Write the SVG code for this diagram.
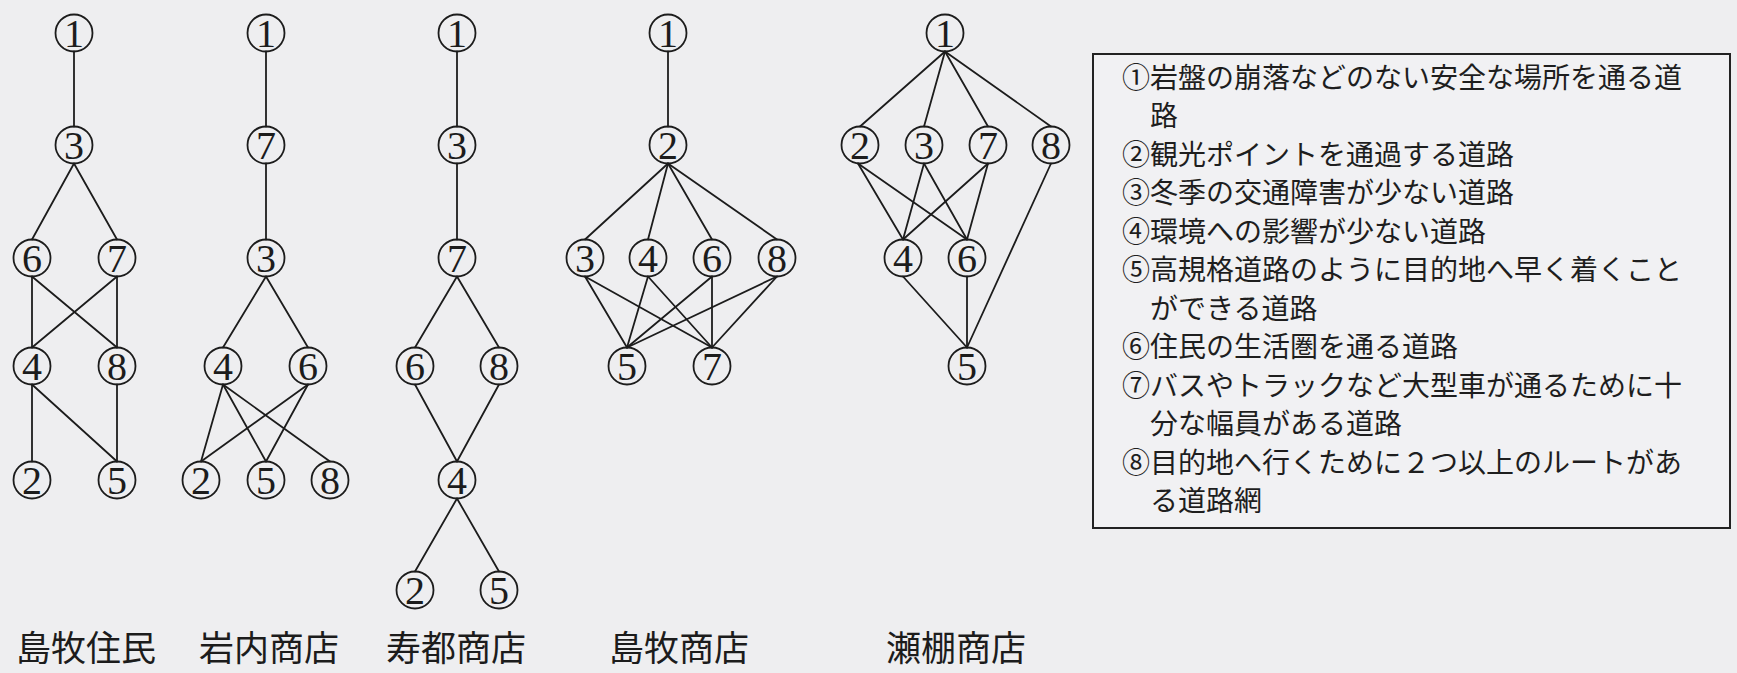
<svg xmlns="http://www.w3.org/2000/svg" width="1737" height="673" viewBox="0 0 1737 673">
<style>
.bg{fill:#eeeef0}
circle.n{fill:none;stroke:#1c1c1c;stroke-width:1.8}
text.d{font-family:"Liberation Serif","DejaVu Serif",serif;font-size:40px;fill:#1c1c1c;text-anchor:middle}
#edges line{stroke:#1c1c1c;stroke-width:1.8;stroke-linecap:round}
text.lbl{font-family:"Noto Sans CJK JP","Noto Sans CJK SC",sans-serif;font-size:35px;fill:#1c1c1c}
text.lg{font-family:"Noto Sans CJK JP","Noto Sans CJK SC",sans-serif;font-size:28px;fill:#1e1e1e}
</style>
<rect class="bg" x="0" y="0" width="1737" height="673"/>

<g id="edges">
<!-- G1 島牧住民 -->
<line x1="74" y1="51.5" x2="74" y2="126.5"/>
<line x1="74" y1="163.5" x2="32" y2="239.5"/>
<line x1="74" y1="163.5" x2="117" y2="239.5"/>
<line x1="32" y1="276.5" x2="32" y2="347.5"/>
<line x1="32" y1="276.5" x2="117" y2="347.5"/>
<line x1="117" y1="276.5" x2="32" y2="347.5"/>
<line x1="117" y1="276.5" x2="117" y2="347.5"/>
<line x1="32" y1="384.5" x2="32" y2="461.5"/>
<line x1="32" y1="384.5" x2="117" y2="461.5"/>
<line x1="117" y1="384.5" x2="117" y2="461.5"/>
<!-- G2 岩内商店 -->
<line x1="266" y1="51.5" x2="266" y2="126.5"/>
<line x1="266" y1="163.5" x2="266" y2="239.5"/>
<line x1="266" y1="276.5" x2="223" y2="347.5"/>
<line x1="266" y1="276.5" x2="308" y2="347.5"/>
<line x1="223" y1="384.5" x2="201" y2="461.5"/>
<line x1="223" y1="384.5" x2="266" y2="461.5"/>
<line x1="223" y1="384.5" x2="330" y2="461.5"/>
<line x1="308" y1="384.5" x2="201" y2="461.5"/>
<line x1="308" y1="384.5" x2="266" y2="461.5"/>
<!-- G3 寿都商店 -->
<line x1="457" y1="51.5" x2="457" y2="126.5"/>
<line x1="457" y1="163.5" x2="457" y2="239.5"/>
<line x1="457" y1="276.5" x2="415" y2="347.5"/>
<line x1="457" y1="276.5" x2="499" y2="347.5"/>
<line x1="415" y1="384.5" x2="457" y2="461.5"/>
<line x1="499" y1="384.5" x2="457" y2="461.5"/>
<line x1="457" y1="498.5" x2="415" y2="571.5"/>
<line x1="457" y1="498.5" x2="499" y2="571.5"/>
<!-- G4 島牧商店 -->
<line x1="668" y1="51.5" x2="668" y2="126.5"/>
<line x1="668" y1="163.5" x2="585" y2="239.5"/>
<line x1="668" y1="163.5" x2="648" y2="239.5"/>
<line x1="668" y1="163.5" x2="712" y2="239.5"/>
<line x1="668" y1="163.5" x2="777" y2="239.5"/>
<line x1="585" y1="276.5" x2="627" y2="347.5"/>
<line x1="585" y1="276.5" x2="712" y2="347.5"/>
<line x1="648" y1="276.5" x2="627" y2="347.5"/>
<line x1="648" y1="276.5" x2="712" y2="347.5"/>
<line x1="712" y1="276.5" x2="627" y2="347.5"/>
<line x1="712" y1="276.5" x2="712" y2="347.5"/>
<line x1="777" y1="276.5" x2="627" y2="347.5"/>
<line x1="777" y1="276.5" x2="712" y2="347.5"/>
<!-- G5 瀬棚商店 -->
<line x1="945" y1="51.5" x2="860" y2="126.5"/>
<line x1="945" y1="51.5" x2="924" y2="126.5"/>
<line x1="945" y1="51.5" x2="988" y2="126.5"/>
<line x1="945" y1="51.5" x2="1051" y2="126.5"/>
<line x1="858" y1="163.5" x2="903" y2="239.5"/>
<line x1="858" y1="163.5" x2="967" y2="239.5"/>
<line x1="924" y1="163.5" x2="903" y2="239.5"/>
<line x1="924" y1="163.5" x2="967" y2="239.5"/>
<line x1="988" y1="163.5" x2="903" y2="239.5"/>
<line x1="988" y1="163.5" x2="967" y2="239.5"/>
<line x1="903" y1="276.5" x2="967" y2="347.5"/>
<line x1="967" y1="276.5" x2="967" y2="347.5"/>
<line x1="1051" y1="163.5" x2="967" y2="347.5"/>
</g>

<!-- G1 nodes -->
<g id="g1-n1"><circle class="n" cx="74" cy="33" r="18.5"/><text class="d" x="74" y="47">1</text></g>
<g id="g1-n3"><circle class="n" cx="74" cy="145" r="18.5"/><text class="d" x="74" y="159">3</text></g>
<g id="g1-n6"><circle class="n" cx="32" cy="258" r="18.5"/><text class="d" x="32" y="272">6</text></g>
<g id="g1-n7"><circle class="n" cx="117" cy="258" r="18.5"/><text class="d" x="117" y="272">7</text></g>
<g id="g1-n4"><circle class="n" cx="32" cy="366" r="18.5"/><text class="d" x="32" y="380">4</text></g>
<g id="g1-n8"><circle class="n" cx="117" cy="366" r="18.5"/><text class="d" x="117" y="380">8</text></g>
<g id="g1-n2"><circle class="n" cx="32" cy="480" r="18.5"/><text class="d" x="32" y="494">2</text></g>
<g id="g1-n5"><circle class="n" cx="117" cy="480" r="18.5"/><text class="d" x="117" y="494">5</text></g>

<!-- G2 nodes -->
<g id="g2-n1"><circle class="n" cx="266" cy="33" r="18.5"/><text class="d" x="266" y="47">1</text></g>
<g id="g2-n7"><circle class="n" cx="266" cy="145" r="18.5"/><text class="d" x="266" y="159">7</text></g>
<g id="g2-n3"><circle class="n" cx="266" cy="258" r="18.5"/><text class="d" x="266" y="272">3</text></g>
<g id="g2-n4"><circle class="n" cx="223" cy="366" r="18.5"/><text class="d" x="223" y="380">4</text></g>
<g id="g2-n6"><circle class="n" cx="308" cy="366" r="18.5"/><text class="d" x="308" y="380">6</text></g>
<g id="g2-n2"><circle class="n" cx="201" cy="480" r="18.5"/><text class="d" x="201" y="494">2</text></g>
<g id="g2-n5"><circle class="n" cx="266" cy="480" r="18.5"/><text class="d" x="266" y="494">5</text></g>
<g id="g2-n8"><circle class="n" cx="330" cy="480" r="18.5"/><text class="d" x="330" y="494">8</text></g>

<!-- G3 nodes -->
<g id="g3-n1"><circle class="n" cx="457" cy="33" r="18.5"/><text class="d" x="457" y="47">1</text></g>
<g id="g3-n3"><circle class="n" cx="457" cy="145" r="18.5"/><text class="d" x="457" y="159">3</text></g>
<g id="g3-n7"><circle class="n" cx="457" cy="258" r="18.5"/><text class="d" x="457" y="272">7</text></g>
<g id="g3-n6"><circle class="n" cx="415" cy="366" r="18.5"/><text class="d" x="415" y="380">6</text></g>
<g id="g3-n8"><circle class="n" cx="499" cy="366" r="18.5"/><text class="d" x="499" y="380">8</text></g>
<g id="g3-n4"><circle class="n" cx="457" cy="480" r="18.5"/><text class="d" x="457" y="494">4</text></g>
<g id="g3-n2"><circle class="n" cx="415" cy="590" r="18.5"/><text class="d" x="415" y="604">2</text></g>
<g id="g3-n5"><circle class="n" cx="499" cy="590" r="18.5"/><text class="d" x="499" y="604">5</text></g>

<!-- G4 nodes -->
<g id="g4-n1"><circle class="n" cx="668" cy="33" r="18.5"/><text class="d" x="668" y="47">1</text></g>
<g id="g4-n2"><circle class="n" cx="668" cy="145" r="18.5"/><text class="d" x="668" y="159">2</text></g>
<g id="g4-n3"><circle class="n" cx="585" cy="258" r="18.5"/><text class="d" x="585" y="272">3</text></g>
<g id="g4-n4"><circle class="n" cx="648" cy="258" r="18.5"/><text class="d" x="648" y="272">4</text></g>
<g id="g4-n6"><circle class="n" cx="712" cy="258" r="18.5"/><text class="d" x="712" y="272">6</text></g>
<g id="g4-n8"><circle class="n" cx="777" cy="258" r="18.5"/><text class="d" x="777" y="272">8</text></g>
<g id="g4-n5"><circle class="n" cx="627" cy="366" r="18.5"/><text class="d" x="627" y="380">5</text></g>
<g id="g4-n7"><circle class="n" cx="712" cy="366" r="18.5"/><text class="d" x="712" y="380">7</text></g>

<!-- G5 nodes -->
<g id="g5-n1"><circle class="n" cx="945" cy="33" r="18.5"/><text class="d" x="945" y="47">1</text></g>
<g id="g5-n2"><circle class="n" cx="860" cy="145" r="18.5"/><text class="d" x="860" y="159">2</text></g>
<g id="g5-n3"><circle class="n" cx="924" cy="145" r="18.5"/><text class="d" x="924" y="159">3</text></g>
<g id="g5-n7"><circle class="n" cx="988" cy="145" r="18.5"/><text class="d" x="988" y="159">7</text></g>
<g id="g5-n8"><circle class="n" cx="1051" cy="145" r="18.5"/><text class="d" x="1051" y="159">8</text></g>
<g id="g5-n4"><circle class="n" cx="903" cy="258" r="18.5"/><text class="d" x="903" y="272">4</text></g>
<g id="g5-n6"><circle class="n" cx="967" cy="258" r="18.5"/><text class="d" x="967" y="272">6</text></g>
<g id="g5-n5"><circle class="n" cx="967" cy="366" r="18.5"/><text class="d" x="967" y="380">5</text></g>

<!-- Labels -->
<g id="labels">
<text class="lbl" x="16" y="661">島牧住民</text>
<text class="lbl" x="199" y="661">岩内商店</text>
<text class="lbl" x="386" y="661">寿都商店</text>
<text class="lbl" x="609" y="661">島牧商店</text>
<text class="lbl" x="886" y="661">瀬棚商店</text>
</g>

<!-- Legend -->
<g id="legend">
<rect x="1093" y="54" width="637" height="474" fill="#f1f1f3" stroke="#222" stroke-width="2"/>
<text class="lg" x="1122" y="87.5">①岩盤の崩落などのない安全な場所を通る道</text>
<text class="lg" x="1150" y="126">路</text>
<text class="lg" x="1122" y="164.5">②観光ポイントを通過する道路</text>
<text class="lg" x="1122" y="203">③冬季の交通障害が少ない道路</text>
<text class="lg" x="1122" y="241.5">④環境への影響が少ない道路</text>
<text class="lg" x="1122" y="280">⑤高規格道路のように目的地へ早く着くこと</text>
<text class="lg" x="1150" y="318.5">ができる道路</text>
<text class="lg" x="1122" y="357">⑥住民の生活圏を通る道路</text>
<text class="lg" x="1122" y="395.5">⑦バスやトラックなど大型車が通るために十</text>
<text class="lg" x="1150" y="434">分な幅員がある道路</text>
<text class="lg" x="1122" y="472.5">⑧目的地へ行くために２つ以上のルートがあ</text>
<text class="lg" x="1150" y="511">る道路網</text>
</g>
</svg>
